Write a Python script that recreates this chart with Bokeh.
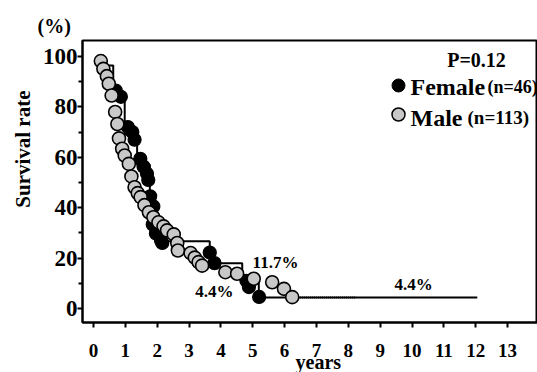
from bokeh.plotting import figure
from bokeh.models import Range1d, Label, FixedTicker, Title
from bokeh.embed import file_html
from bokeh.resources import INLINE

# ---- data ----
female_t = [0.70, 0.86, 1.08, 1.22, 1.29, 1.47, 1.57, 1.68, 1.72, 1.78, 1.88, 1.86, 1.96,
            2.12, 2.16, 3.65, 3.80, 4.80, 4.88, 5.20]
female_v = [86.5, 84.0, 72.0, 70.0, 67.0, 59.4, 56.3, 53.5, 51.0, 44.5, 40.5, 33.3, 29.8,
            27.0, 26.0, 22.2, 18.0, 11.0, 8.5, 4.6]

male_t = [0.23, 0.31, 0.42, 0.48, 0.57, 0.68, 0.75, 0.80, 0.90, 0.98, 1.11, 1.19, 1.29, 1.39,
          1.48, 1.60, 1.74, 1.88, 2.04, 2.20, 2.31, 2.52, 2.63, 2.65, 3.05, 3.18, 3.30, 3.41,
          4.14, 4.51, 5.03, 5.61, 5.98, 6.24]
male_v = [98.2, 95.1, 92.2, 89.2, 84.5, 78.0, 73.2, 67.5, 63.4, 60.7, 57.4, 52.4, 48.1, 45.8,
          44.2, 41.0, 38.2, 36.2, 34.2, 32.6, 31.0, 29.4, 26.0, 23.0, 22.0, 20.2, 18.4, 17.0,
          14.4, 13.8, 11.8, 10.4, 7.8, 4.5]

# Kaplan-Meier step line (female)
km_t = [0.30, 0.62, 0.98, 1.37, 1.77, 2.05, 3.65, 4.67, 5.19, 12.05]
km_v = [96.4, 84.5, 69.0, 57.0, 36.0, 26.7, 18.0, 13.1, 4.4, 4.4]

# dotted tail (male)
tail_t = [6.30, 8.25]
tail_v = [4.4, 4.4]

x_ticks = list(range(0, 14))
y_ticks = [0, 20, 40, 60, 80, 100]
y_minor = [10, 30, 50, 70, 90]

serif = "Liberation Serif"

# ---- figure ----
p = figure(width=537, height=372, output_backend="svg", toolbar_location=None,
           x_range=Range1d(-0.345, 13.94), y_range=Range1d(-5.56, 106.35),
           min_border_left=82, min_border_top=40, min_border_right=0, min_border_bottom=50)
p.xgrid.visible = False
p.ygrid.visible = False
p.background_fill_color = "white"
p.border_fill_color = "white"
p.outline_line_color = "black"
p.outline_line_width = 2

p.xaxis.ticker = FixedTicker(ticks=x_ticks)
p.xaxis.axis_line_width = 2
p.xaxis.major_tick_line_width = 2
p.xaxis.major_tick_in = 0
p.xaxis.major_tick_out = 5
p.xaxis.minor_tick_line_color = None
p.xaxis.major_label_text_font = serif
p.xaxis.major_label_text_font_style = "bold"
p.xaxis.major_label_text_font_size = "19px"
p.xaxis.major_label_text_color = "black"
p.xaxis.major_label_standoff = 16

p.yaxis.ticker = FixedTicker(ticks=y_ticks, minor_ticks=y_minor)
p.yaxis.axis_line_width = 2
p.yaxis.major_tick_line_width = 2
p.yaxis.major_tick_in = 0
p.yaxis.major_tick_out = 5
p.yaxis.minor_tick_line_width = 2
p.yaxis.minor_tick_in = 0
p.yaxis.minor_tick_out = 4
p.yaxis.major_label_text_font = "Liberation Sans Narrow"
p.yaxis.major_label_text_font_style = "bold"
p.yaxis.major_label_text_font_size = "23px"
p.yaxis.major_label_text_color = "black"
p.yaxis.major_label_standoff = 0

# outer texts as titles in the side panels
p.add_layout(Title(text="Survival rate", align="right", offset=50, standoff=10,
                   text_font=serif, text_font_style="bold", text_font_size="21px",
                   text_color="black"), "left")
p.add_layout(Title(text="(%)", align="left", offset=-45, standoff=8,
                   text_font=serif, text_font_style="bold", text_font_size="20px",
                   text_color="black"), "above")
p.add_layout(Title(text="years", align="left", offset=213, standoff=-27,
                   vertical_align="bottom",
                   text_font=serif, text_font_style="bold", text_font_size="20px",
                   text_color="black"), "below")

# ---- marks ----
p.step(km_t, km_v, mode="after", line_color="black", line_width=2)
p.line(tail_t, tail_v, line_color="black", line_width=2, line_dash="1 1")
p.scatter(female_t, female_v, size=13, fill_color="black", line_color="black", line_width=1.2)
p.scatter(male_t, male_v, size=13, fill_color="#c8c8c8", line_color="black", line_width=1.6)


def X(px):
    return (px - 93) / 31.85


def Y(py):
    return (308 - py) / 2.52


def lab(text, px, py, size, align="left"):
    p.add_layout(Label(x=X(px), y=Y(py), text=text, text_font=serif, text_font_style="bold",
                       text_font_size=size, text_align=align, text_baseline="middle",
                       text_color="black"))


# legend
p.scatter([X(398)], [Y(85)], size=13, fill_color="black", line_color="black")
p.scatter([X(398)], [Y(114)], size=13, fill_color="#c8c8c8", line_color="black", line_width=1.5)
lab("P=0.12", 476, 59, "20px", align="center")
lab("Female", 410, 87, "24px")
lab("(n=46)", 487, 87, "18px")
lab("Male", 410, 117.5, "24px")
lab("(n=113)", 467, 117.5, "19px")

# annotations
lab("4.4%", 214, 291, "17px", align="center")
lab("11.7%", 275, 262.5, "17px", align="center")
lab("4.4%", 413, 284, "17px", align="center")

open("out.html", "w").write(file_html(p, INLINE))
